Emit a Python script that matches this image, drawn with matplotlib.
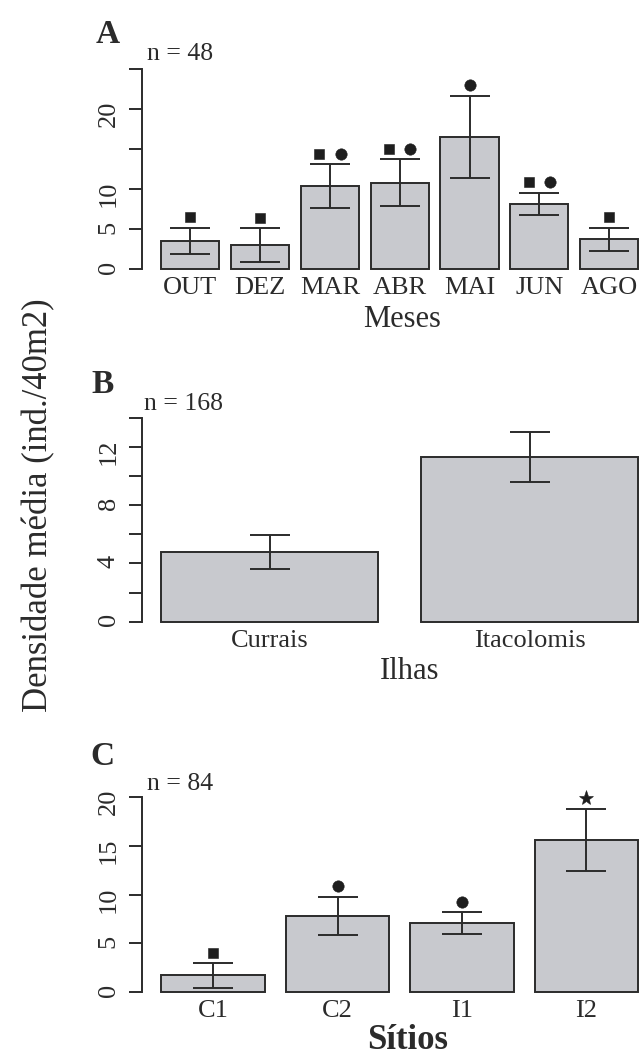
import matplotlib

matplotlib.use("Agg")
import matplotlib.pyplot as plt
from matplotlib.transforms import offset_copy

# mean density (ind./40m2) with standard error, per month / island / site
months = ["OUT", "DEZ", "MAR", "ABR", "MAI", "JUN", "AGO"]
month_mean = [3.55, 3.0, 10.4, 10.8, 16.5, 8.15, 3.75]
month_se = [1.65, 2.1, 2.7, 2.9, 5.1, 1.4, 1.45]
month_marks = [["s"], ["s"], ["s", "o"], ["s", "o"], ["o"], ["s", "o"], ["s"]]

islands = ["Currais", "Itacolomis"]
island_mean = [4.78, 11.3]
island_se = [1.17, 1.74]
island_marks = [[], []]

sites = ["C1", "C2", "I1", "I2"]
site_mean = [1.74, 7.8, 7.05, 15.6]
site_se = [1.25, 1.96, 1.13, 3.2]
site_marks = [["s"], ["o"], ["o"], ["*"]]

FILL = "#c8c9ce"
INK = "#2b2b2b"
LW = 1.4

plt.rcParams["font.family"] = ["Liberation Serif", "DejaVu Serif"]
plt.rcParams["text.color"] = INK

W, H = 639, 1057
fig = plt.figure(figsize=(W / 100, H / 100), dpi=100)


def px_axes(top, bottom):
    # plot region in pixels -> figure fraction (runs past the right edge)
    return [142.2 / W, 1 - bottom / H, 515.1 / W, (bottom - top) / H]


def panel(ax, labels, mean, se, marks, ymax, yticks, ylabels):
    n = len(labels)
    pos = [0.7 + 1.2 * i for i in range(n)]
    ax.bar(pos, mean, width=1.0, color=FILL, edgecolor=INK, linewidth=LW, zorder=2)
    ax.errorbar(pos, mean, yerr=se, fmt="none", ecolor=INK, elinewidth=LW,
                capsize=14.4, capthick=LW, zorder=3)

    lo, hi = 0.2, 1.2 * n
    pad = 0.04 * (hi - lo)
    ax.set_xlim(lo - pad, hi + pad)
    ax.set_ylim(-0.04 * ymax, 1.04 * ymax)

    for side in ["top", "right", "bottom"]:
        ax.spines[side].set_visible(False)
    ax.spines["left"].set_bounds(0, ymax)
    ax.spines["left"].set_linewidth(LW)
    ax.spines["left"].set_color(INK)

    ax.set_yticks(yticks)
    ax.set_yticklabels(ylabels)
    ax.tick_params(axis="y", direction="out", length=9.1, width=LW, pad=7,
                   labelsize=19, labelrotation=90, colors=INK)
    ax.set_xticks(pos)
    ax.set_xticklabels(labels)
    ax.tick_params(axis="x", length=0, pad=12, labelsize=19, colors=INK)
    for lab in ax.get_xticklabels():
        lab.set_verticalalignment("baseline")

    # significance symbols above the error bars
    for i, syms in enumerate(marks):
        offs = [0.0] if len(syms) == 1 else [-7.6, 7.6]
        for sym, dx in zip(syms, offs):
            tr = offset_copy(ax.transData, fig=fig, x=dx, y=7.6, units="points")
            size = {"s": 7.6, "o": 8.2, "*": 11}[sym]
            ax.plot(pos[i], mean[i] + se[i], marker=sym, ms=size, color="#1e1e1e",
                    mec="#1e1e1e", mew=0.4, transform=tr, clip_on=False, zorder=4)


ax_a = fig.add_axes(px_axes(60.7, 277.3))
panel(ax_a, months, month_mean, month_se, month_marks, 25,
      [0, 5, 10, 15, 20, 25], ["0", "5", "10", "", "20", ""])

ax_b = fig.add_axes(px_axes(409.4, 629.9))
panel(ax_b, islands, island_mean, island_se, island_marks, 14,
      [0, 2, 4, 6, 8, 10, 12, 14], ["0", "", "4", "", "8", "", "12", ""])

ax_c = fig.add_axes(px_axes(789.2, 1000.1))
panel(ax_c, sites, site_mean, site_se, site_marks, 20,
      [0, 5, 10, 15, 20], ["0", "5", "10", "15", "20"])


def put(x, y, s, **kw):
    fig.text(x / W, 1 - y / H, s, va="baseline", **kw)


# panel letters and sample sizes
put(96, 42.7, "A", size=24, weight="bold")
put(91.7, 392.7, "B", size=24, weight="bold")
put(90, 765, "C", size=24, weight="bold")
put(147.3, 60, "n = 48", size=18.5)
put(144, 410, "n = 168", size=18.5)
put(147, 790, "n = 84", size=18.5)

# axis titles
put(402, 326.6, "Meses", size=22, ha="center")
put(410, 679, "Ilhas", size=22, ha="center")
put(408, 1049, "Sítios", size=25, ha="center", weight="bold")
fig.text(39 / W, 1 - 505 / H, "Densidade média (ind./40m2)", size=25,
         rotation=90, ha="center", va="center")

fig.savefig("out.png", dpi=100)
plt.close(fig)
